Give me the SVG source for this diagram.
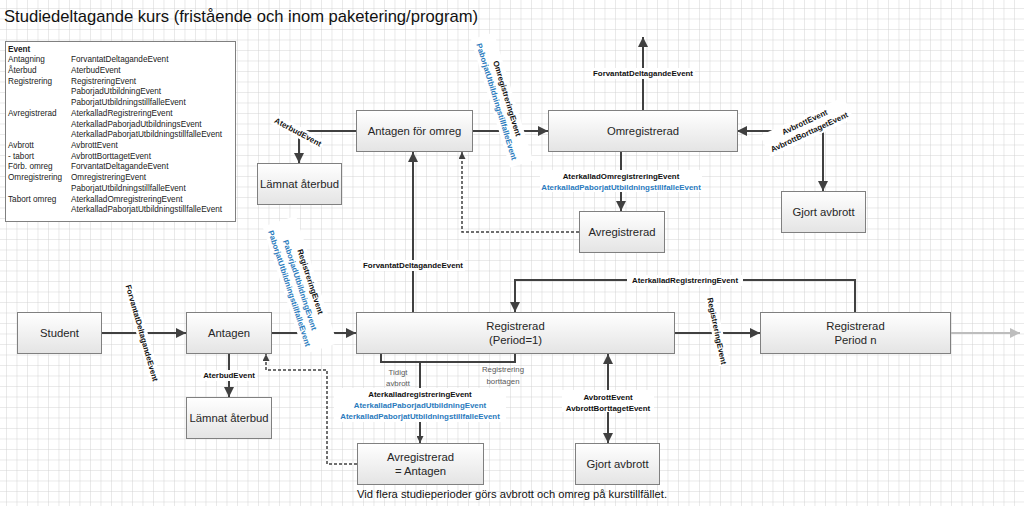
<svg xmlns="http://www.w3.org/2000/svg" width="1024" height="506" viewBox="0 0 1024 506">
<defs>
<pattern id="grid" x="6" y="8" width="10.5" height="10.5" patternUnits="userSpaceOnUse">
<path d="M0,0 H10.5 M0,0 V10.5" fill="none" stroke="#d3d3d3" stroke-width="1"/>
</pattern>
<linearGradient id="bx" x1="0" y1="0" x2="0" y2="1">
<stop offset="0" stop-color="#ffffff"/>
<stop offset="1" stop-color="#e4e4e4"/>
</linearGradient>
<marker id="ah" viewBox="0 0 10 10" refX="10" refY="5" markerWidth="10" markerHeight="10" markerUnits="userSpaceOnUse" orient="auto-start-reverse">
<path d="M0,0 L10,5 L0,10 z" fill="#404040"/>
</marker>
<marker id="ahs" viewBox="0 0 10 10" refX="10" refY="5" markerWidth="7" markerHeight="7" markerUnits="userSpaceOnUse" orient="auto-start-reverse">
<path d="M0,0 L10,5 L0,10 z" fill="#404040"/>
</marker>
<marker id="ahg" viewBox="0 0 10 10" refX="10" refY="5" markerWidth="10" markerHeight="10" markerUnits="userSpaceOnUse" orient="auto">
<path d="M0,0 L10,5 L0,10 z" fill="#bdbdbd"/>
</marker>
<style>
.box{fill:url(#bx);stroke:#808080;stroke-width:1}
.nt{font-family:"Liberation Sans",Arial,sans-serif;font-size:11.3px;fill:#262626;text-anchor:middle}
.lb{font-family:"Liberation Sans",Arial,sans-serif;font-size:7.9px;font-weight:bold;fill:#111;text-anchor:middle}
.bl{font-family:"Liberation Sans",Arial,sans-serif;font-size:7.9px;font-weight:bold;fill:#2a7bbd;text-anchor:middle}
.gl{font-family:"Liberation Sans",Arial,sans-serif;font-size:7.8px;fill:#595959;text-anchor:middle}
.lg{font-family:"Liberation Sans",Arial,sans-serif;font-size:8.2px;fill:#222}
.c{fill:none;stroke:#404040;stroke-width:2}
.d{fill:none;stroke:#404040;stroke-width:1.5;stroke-dasharray:3 2}
.wb{fill:#ffffff}
</style>
</defs>
<rect width="1024" height="506" fill="#ffffff"/>
<rect width="1024" height="506" fill="url(#grid)"/>

<text x="4" y="22" font-family="Liberation Sans, Arial, sans-serif" font-size="17" fill="#111" textLength="474" lengthAdjust="spacingAndGlyphs">Studiedeltagande kurs (fristående och inom paketering/program)</text>

<g id="legend">
<rect x="5.5" y="41.5" width="230" height="180" fill="#ffffff" stroke="#808080" stroke-width="1"/>
<text class="lg" x="8" y="51.5" font-weight="bold">Event</text>
<text class="lg" x="8" y="62.3">Antagning</text><text class="lg" x="71" y="62.3">ForvantatDeltagandeEvent</text>
<text class="lg" x="8" y="73">Återbud</text><text class="lg" x="71" y="73">AterbudEvent</text>
<text class="lg" x="8" y="83.7">Registrering</text><text class="lg" x="71" y="83.7">RegistreringEvent</text>
<text class="lg" x="71" y="94.4">PaborjadUtbildningEvent</text>
<text class="lg" x="71" y="105">PaborjatUtbildningstillfalleEvent</text>
<text class="lg" x="8" y="115.8">Avregistrerad</text><text class="lg" x="71" y="115.8">AterkalladRegistreringEvent</text>
<text class="lg" x="71" y="126.5">AterkalladPaborjadUtbildningsEvent</text>
<text class="lg" x="71" y="137.2">AterkalladPaborjatUtbildningstillfalleEvent</text>
<text class="lg" x="8" y="148">Avbrott</text><text class="lg" x="71" y="148">AvbrottEvent</text>
<text class="lg" x="8" y="158.7">- tabort</text><text class="lg" x="71" y="158.7">AvbrottBorttagetEvent</text>
<text class="lg" x="8" y="169.4">Förb. omreg</text><text class="lg" x="71" y="169.4">ForvantatDeltagandeEvent</text>
<text class="lg" x="8" y="180.2">Omregistrering</text><text class="lg" x="71" y="180.2">OmregistreringEvent</text>
<text class="lg" x="71" y="190.9">PaborjatUtbildningstillfalleEvent</text>
<text class="lg" x="8" y="201.7">Tabort omreg</text><text class="lg" x="71" y="201.7">AterkalladOmregistreringEvent</text>
<text class="lg" x="71" y="212.4">AterkalladPaborjatUtbildningstillfalleEvent</text>
</g>

<g id="connectors">
<path class="c" d="M101,333 H186" marker-end="url(#ah)"/>
<path class="c" d="M272,333 H356" marker-end="url(#ah)"/>
<path class="c" d="M229,354 V397" marker-end="url(#ah)"/>
<path class="d" d="M357,464 H327 V370 H266 V354" marker-end="url(#ahs)"/>
<path class="c" d="M413,312 V152" marker-end="url(#ah)"/>
<path class="c" d="M356,131 H299 V163" marker-end="url(#ah)"/>
<path class="d" d="M579,232 H462 V152" marker-end="url(#ahs)"/>
<path class="c" d="M472,131 H548" marker-end="url(#ah)"/>
<path class="c" d="M643,110 V37" marker-end="url(#ah)"/>
<path class="c" d="M621,152 V211" marker-end="url(#ah)"/>
<path class="c" d="M823,191 V131 H737" marker-start="url(#ah)" marker-end="url(#ah)"/>
<path class="c" d="M674,333 H760" marker-end="url(#ah)"/>
<path class="c" d="M855,312 V280 H515 V312" marker-end="url(#ah)"/>
<path d="M950,333 H1020" fill="none" stroke="#bdbdbd" stroke-width="2" marker-end="url(#ahg)"/>
<path class="c" d="M381,354 V362 H515 V354"/>
<path class="c" d="M420,362 V443" marker-end="url(#ahs)"/>
<path class="c" d="M608,354 V443" marker-start="url(#ah)" marker-end="url(#ah)"/>

<!-- labels -->
<g transform="translate(142,333) rotate(74)">
<rect class="wb" x="-51" y="-5.5" width="102" height="11"/>
<text class="lb" y="2.8">ForvantatDeltagandeEvent</text>
</g>
<g transform="translate(300,285) rotate(72)">
<rect class="wb" x="-67" y="-17.5" width="134" height="35"/>
<text class="lb" y="-8.2">RegistreringEvent</text>
<text class="bl" y="2.8">PaborjadUtbildningEvent</text>
<text class="bl" y="13.8">PaborjatUtbildningstillfalleEvent</text>
</g>
<rect class="wb" x="201" y="370" width="56" height="11"/>
<text class="lb" x="229" y="378">AterbudEvent</text>
<rect class="wb" x="361" y="260" width="104" height="11"/>
<text class="lb" x="413" y="268">ForvantatDeltagandeEvent</text>
<g transform="translate(298,132) rotate(28)">
<rect class="wb" x="-28" y="-5.5" width="56" height="11"/>
<text class="lb" y="2.8">AterbudEvent</text>
</g>
<g transform="translate(502,100) rotate(73)">
<rect class="wb" x="-67" y="-12" width="134" height="24"/>
<text class="lb" y="-2.7">OmregistreringEvent</text>
<text class="bl" y="8.3">PaborjatUtbildningstillfalleEvent</text>
</g>
<rect class="wb" x="591" y="68" width="104" height="11"/>
<text class="lb" x="643" y="76">ForvantatDeltagandeEvent</text>
<rect class="wb" x="540" y="170" width="162" height="22"/>
<text class="lb" x="621" y="178.8">AterkalladOmregistreringEvent</text>
<text class="bl" x="621" y="189.8">AterkalladPaborjatUtbildningstillfalleEvent</text>
<g transform="translate(807,127) rotate(-25)">
<rect class="wb" x="-46" y="-12" width="92" height="24"/>
<text class="lb" y="-2.7">AvbrottEvent</text>
<text class="lb" y="8.3">AvbrottBorttagetEvent</text>
</g>
<g transform="translate(717,331) rotate(78)">
<rect class="wb" x="-35" y="-5.5" width="70" height="11"/>
<text class="lb" y="2.8">RegistreringEvent</text>
</g>
<rect class="wb" x="627" y="275" width="116" height="11"/>
<text class="lb" x="685" y="283">AterkalladRegistreringEvent</text>
<text class="gl" x="398" y="374.5">Tidigt</text>
<text class="gl" x="398" y="385.5">avbrott</text>
<text class="gl" x="503" y="371.5">Registrering</text>
<text class="gl" x="503" y="383.5">borttagen</text>
<rect class="wb" x="334" y="388" width="172" height="34"/>
<text class="lb" x="420" y="396.8">AterkalladregistreringEvent</text>
<text class="bl" x="420" y="407.8">AterkalladPaborjadUtbildningEvent</text>
<text class="bl" x="420" y="418.8">AterkalladPaborjatUtbildningstillfalleEvent</text>
<rect class="wb" x="562" y="390" width="92" height="22"/>
<text class="lb" x="608" y="399.8">AvbrottEvent</text>
<text class="lb" x="608" y="410.8">AvbrottBorttagetEvent</text>
</g>

<g id="student"><rect class="box" x="17.5" y="312.5" width="84" height="41"/><text class="nt" x="59.5" y="337">Student</text></g>
<g id="antagen"><rect class="box" x="186.5" y="312.5" width="85" height="41"/><text class="nt" x="229" y="337">Antagen</text></g>
<g id="lamnat-aterbud-1"><rect class="box" x="186.5" y="397.5" width="85" height="41"/><text class="nt" x="229" y="422">Lämnat återbud</text></g>
<g id="lamnat-aterbud-2"><rect class="box" x="257.5" y="163.5" width="84" height="41"/><text class="nt" x="299.5" y="188">Lämnat återbud</text></g>
<g id="antagen-omreg"><rect class="box" x="356.5" y="110.5" width="116" height="41"/><text class="nt" x="414.5" y="135">Antagen för omreg</text></g>
<g id="omregistrerad"><rect class="box" x="548.5" y="110.5" width="189" height="41"/><text class="nt" x="643" y="135">Omregistrerad</text></g>
<g id="avregistrerad"><rect class="box" x="579.5" y="211.5" width="85" height="41"/><text class="nt" x="622" y="236">Avregistrerad</text></g>
<g id="gjort-avbrott-1"><rect class="box" x="781.5" y="191.5" width="84" height="41"/><text class="nt" x="823.5" y="216">Gjort avbrott</text></g>
<g id="registrerad-1"><rect class="box" x="356.5" y="312.5" width="318" height="41"/><text class="nt" x="515.5" y="330">Registrerad</text><text class="nt" x="515.5" y="344">(Period=1)</text></g>
<g id="registrerad-n"><rect class="box" x="760.5" y="312.5" width="190" height="41"/><text class="nt" x="855.5" y="330">Registrerad</text><text class="nt" x="855.5" y="344">Period n</text></g>
<g id="avregistrerad-antagen"><rect class="box" x="357.5" y="443.5" width="126" height="41"/><text class="nt" x="420.5" y="461">Avregistrerad</text><text class="nt" x="420.5" y="475">= Antagen</text></g>
<g id="gjort-avbrott-2"><rect class="box" x="575.5" y="443.5" width="84" height="41"/><text class="nt" x="617.5" y="468">Gjort avbrott</text></g>

<text x="357" y="498" font-family="Liberation Sans, Arial, sans-serif" font-size="11.5" fill="#111" textLength="310" lengthAdjust="spacingAndGlyphs">Vid flera studieperioder görs avbrott och omreg på kurstillfället.</text>
</svg>
